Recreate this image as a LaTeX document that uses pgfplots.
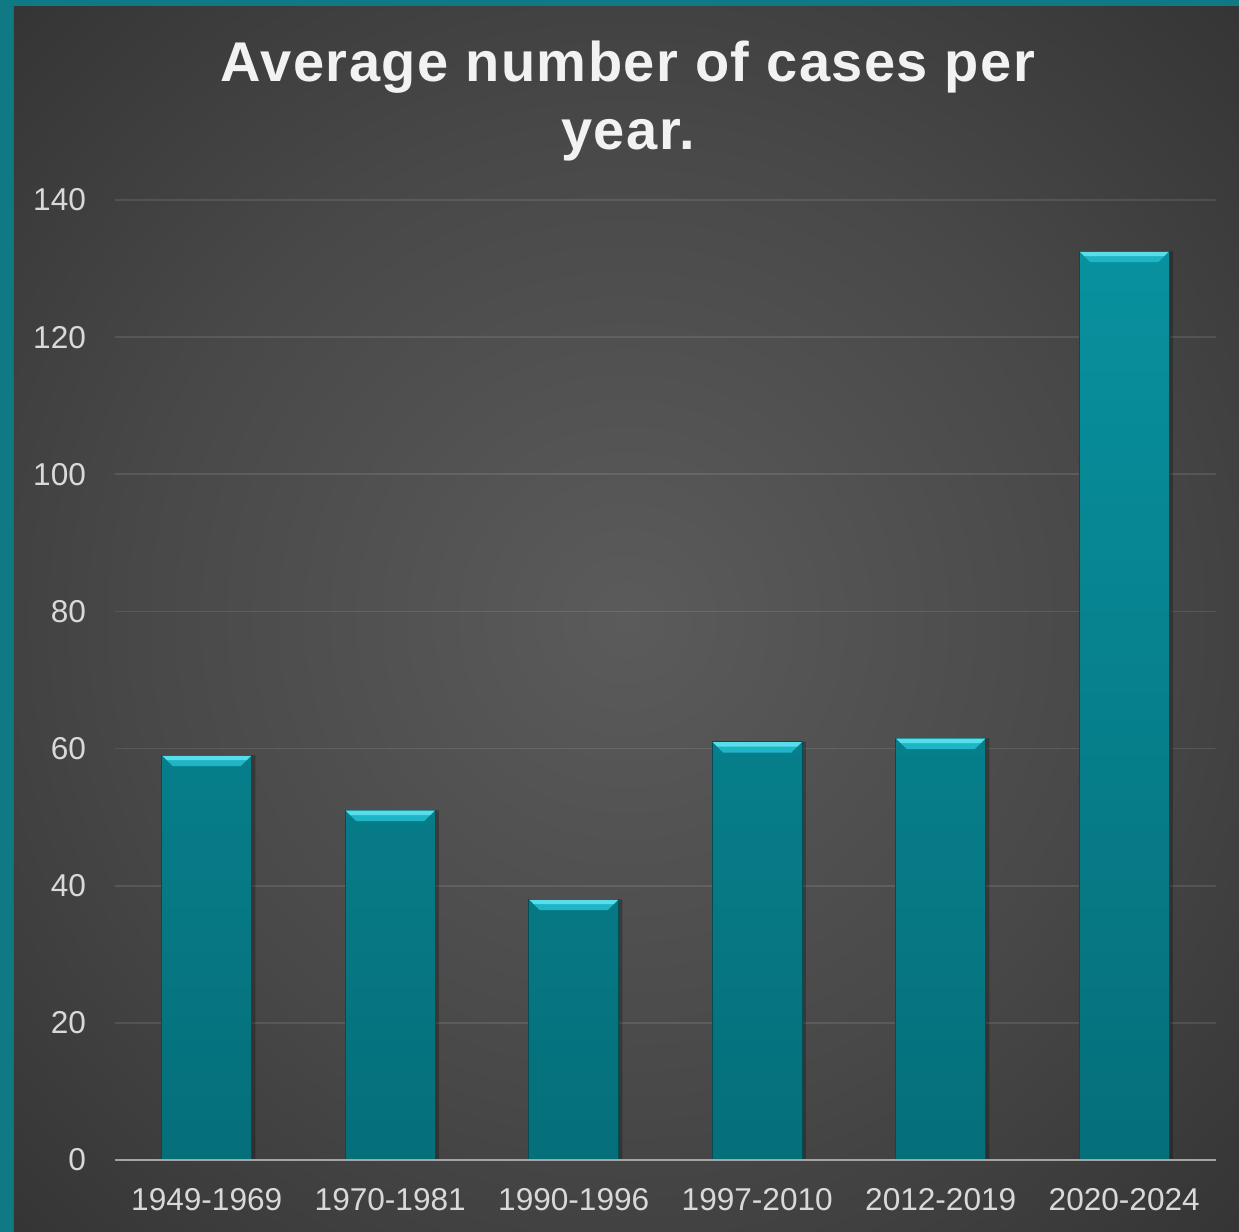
\documentclass[border=0pt]{standalone}
\usepackage{fontspec}
\setmainfont{Liberation Sans}
\newfontfamily\titlefont[LetterSpace=2.6]{Liberation Sans}
\usepackage{pgfplots}
\pgfplotsset{compat=1.18}

\definecolor{frame}{RGB}{16,122,132}
\definecolor{bgin}{RGB}{91,91,91}
\definecolor{bgmid}{RGB}{72,72,72}
\definecolor{bgout}{RGB}{52,52,52}
\definecolor{bgedge}{RGB}{43,43,43}
\definecolor{bgcorner}{RGB}{36,36,36}
\definecolor{bartop}{RGB}{8,145,159}
\definecolor{barbot}{RGB}{5,111,122}
\definecolor{baredge}{RGB}{3,76,84}
\definecolor{bevtop}{RGB}{88,222,234}
\definecolor{bevbot}{RGB}{32,181,198}
\definecolor{ticktext}{RGB}{217,217,217}
\definecolor{titlewhite}{RGB}{242,242,242}
\definecolor{axisgray}{RGB}{165,165,165}

% soft spotlight behind the plot
\pgfdeclareradialshading{backdrop}{\pgfpoint{0bp}{0bp}}{%
  color(0bp)=(bgin); color(20bp)=(bgmid); color(36bp)=(bgout);
  color(50bp)=(bgedge); color(72bp)=(bgcorner)}

% bevelled cap sitting on top of each bar
\pgfdeclareplotmark{bevel}{%
  \pgfsetfillcolor{bevbot}%
  \pgfpathmoveto{\pgfpoint{-22.2pt}{-0.2pt}}%
  \pgfpathlineto{\pgfpoint{22.2pt}{-0.2pt}}%
  \pgfpathlineto{\pgfpoint{17.0pt}{-5.4pt}}%
  \pgfpathlineto{\pgfpoint{-17.0pt}{-5.4pt}}%
  \pgfpathclose
  \pgfusepath{fill}%
  \pgfsetfillcolor{bevtop}%
  \pgfpathmoveto{\pgfpoint{-22.2pt}{-0.2pt}}%
  \pgfpathlineto{\pgfpoint{22.2pt}{-0.2pt}}%
  \pgfpathlineto{\pgfpoint{20.0pt}{-2.4pt}}%
  \pgfpathlineto{\pgfpoint{-20.0pt}{-2.4pt}}%
  \pgfpathclose
  \pgfusepath{fill}%
}

\pgfplotstableread{
x  cases
0  59
1  51
2  38
3  61
4  61.5
5  132.5
}\casedata

\begin{document}
\begin{tikzpicture}
% frame and background
\fill[frame] (-57.5pt,-36pt) rectangle (562pt,580pt);
\shade[shading=backdrop] (-50.5pt,-36pt) rectangle (562pt,576.5pt);

\begin{axis}[
  at={(0,0)}, anchor=south west,
  scale only axis, width=550.5pt, height=480pt,
  xmin=-0.5, xmax=5.5, ymin=0, ymax=140,
  xtick={0,...,5},
  xticklabels={1949-1969,1970-1981,1990-1996,1997-2010,2012-2019,2020-2024},
  ytick={0,20,...,140},
  ymajorgrids,
  major grid style={white, opacity=0.1, line width=0.9pt},
  axis line style={draw=none},
  major tick length=0pt,
  tick label style={font=\fontsize{15.8}{18}\selectfont, text=ticktext},
  /pgf/number format/assume math mode=true,
  yticklabel style={xshift=-11pt},
  xticklabel style={yshift=-10.5pt},
  clip=false,
]
  % shadow to the right of the bars
  \addplot[ybar, bar width=45pt, bar shift=1.8pt, fill=black, fill opacity=0.25, draw=none]
    table[x=x, y=cases] {\casedata};
  % bars
  \addplot[ybar, bar width=45pt, bar shift=0pt, top color=bartop, bottom color=barbot,
           draw=baredge, line width=0.5pt]
    table[x=x, y=cases] {\casedata};
  % bevelled tops
  \addplot[only marks, mark=bevel] table[x=x, y=cases] {\casedata};
  % baseline
  \addplot[axisgray, line width=1.4pt] coordinates {(-0.5,0) (5.5,0)};
\end{axis}

\node[anchor=base, font=\titlefont\bfseries\fontsize{28}{34}\selectfont, text=titlewhite]
  at (256.5pt,539pt) {Average number of cases per};
\node[anchor=base, font=\titlefont\bfseries\fontsize{28}{34}\selectfont, text=titlewhite]
  at (256.5pt,505pt) {year.};
\end{tikzpicture}
\end{document}
